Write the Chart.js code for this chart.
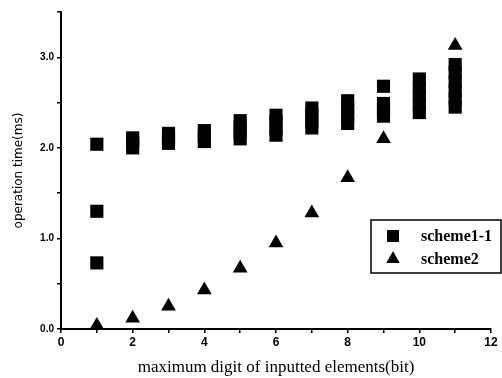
<!DOCTYPE html>
<html>
<head>
<meta charset="utf-8">
<script src="https://cdn.jsdelivr.net/npm/chart.js@4/dist/chart.umd.min.js"></script>
<style>
html,body{margin:0;padding:0;background:#fff;}
#wrap{width:502px;height:378px;position:relative;}
</style>
</head>
<body>
<div id="wrap"><canvas id="c" width="502" height="378"></canvas></div>
<script>
// Data
const seriesNames = ['scheme1-1', 'scheme2'];
const scheme1X = [1,1,1, 2,2,2, 3,3,3, 4,4,4, 5,5,5,5, 6,6,6,6, 7,7,7,7, 8,8,8,8, 9,9,9,9, 10,10,10,10,10, 11,11,11,11,11,11];
const scheme1Y = [0.73,1.30,2.04, 2.00,2.06,2.11, 2.05,2.10,2.16, 2.07,2.13,2.19, 2.10,2.17,2.23,2.30, 2.14,2.21,2.29,2.36, 2.22,2.29,2.37,2.44, 2.27,2.35,2.44,2.52, 2.35,2.42,2.49,2.68, 2.39,2.48,2.57,2.66,2.76, 2.45,2.54,2.63,2.73,2.83,2.92];
const scheme2X = [1,2,3,4,5,6,7,8,9,11];
const scheme2Y = [0.04,0.12,0.25,0.43,0.67,0.95,1.28,1.67,2.10,3.13];
const xTickLabels = ['0','2','4','6','8','10','12'];
const yTickLabels = ['0.0','1.0','2.0','3.0'];
const xTitle = 'maximum digit of inputted elements(bit)';
const yTitle = 'operation time(ms)';

const toPts = (xs, ys) => xs.map((x, i) => ({x: x, y: ys[i]}));

const legendPlugin = {
  id: 'insideLegend',
  afterDraw(chart) {
    const ctx = chart.ctx;
    ctx.save();
    ctx.strokeStyle = '#000';
    ctx.lineWidth = 1.5;
    ctx.strokeRect(371, 220, 130, 53);
    const items = chart.data.datasets;
    const ys = [236, 259];
    items.forEach((ds, i) => {
      Chart.helpers.drawPoint(ctx, {pointStyle: ds.pointStyle, radius: ds.pointStyle === 'rect' ? 8.5 : 7.5, rotation: 0, borderWidth: 0}, 393, ys[i]);
      ctx.fillStyle = '#000';
      ctx.fill();
      ctx.font = 'bold 16px "Liberation Serif"';
      ctx.textBaseline = 'middle';
      ctx.textAlign = 'left';
      ctx.fillText(ds.label, 421, ys[i] + 1);
    });
    ctx.restore();
  }
};

new Chart(document.getElementById('c'), {
  type: 'scatter',
  data: {
    datasets: [
      {label: seriesNames[0], data: toPts(scheme1X, scheme1Y), pointStyle: 'rect', pointRadius: 9.3, pointHoverRadius: 9.3, backgroundColor: '#000', borderColor: '#000', borderWidth: 0},
      {label: seriesNames[1], data: toPts(scheme2X, scheme2Y), pointStyle: 'triangle', pointRadius: 8.5, pointHoverRadius: 8.5, backgroundColor: '#000', borderColor: '#000', borderWidth: 0}
    ]
  },
  options: {
    responsive: false,
    animation: false,
    events: [],
    layout: {padding: {top: 12, right: 11, left: 0, bottom: 0}},
    plugins: {legend: {display: false}, tooltip: {enabled: false}},
    scales: {
      x: {
        type: 'linear', min: 0, max: 12,
        afterFit(s) { s.height = 49; },
        border: {display: true, color: '#000', width: 2},
        grid: {display: true, drawOnChartArea: false, drawTicks: true, tickLength: 4, color: '#000', lineWidth: 1.5},
        ticks: {
          stepSize: 1, autoSkip: false, maxRotation: 0, padding: 2, color: '#000',
          font: {family: '"Liberation Sans"', size: 12, weight: 'bold'},
          callback: (v) => (v % 2 === 0 ? xTickLabels[v / 2] : '')
        },
        title: {display: true, text: xTitle, color: '#000', font: {family: '"Liberation Serif"', size: 17}, padding: {top: 4, bottom: 0}}
      },
      y: {
        type: 'linear', min: 0, max: 3.5,
        afterFit(s) { s.width = 61; },
        border: {display: true, color: '#000', width: 2},
        grid: {display: true, drawOnChartArea: false, drawTicks: true, tickLength: 4, color: '#000', lineWidth: 1.5},
        ticks: {
          stepSize: 0.5, autoSkip: false, padding: 3, color: '#000',
          font: {family: '"Liberation Sans"', size: 10, weight: 'bold'},
          callback: (v) => (Number.isInteger(v) ? yTickLabels[v] : '')
        },
        title: {display: true, text: yTitle, color: '#000', font: {family: '"DejaVu Sans"', size: 12}, padding: {top: 12, bottom: 0}}
      }
    }
  },
  plugins: [legendPlugin]
});
</script>
</body>
</html>
